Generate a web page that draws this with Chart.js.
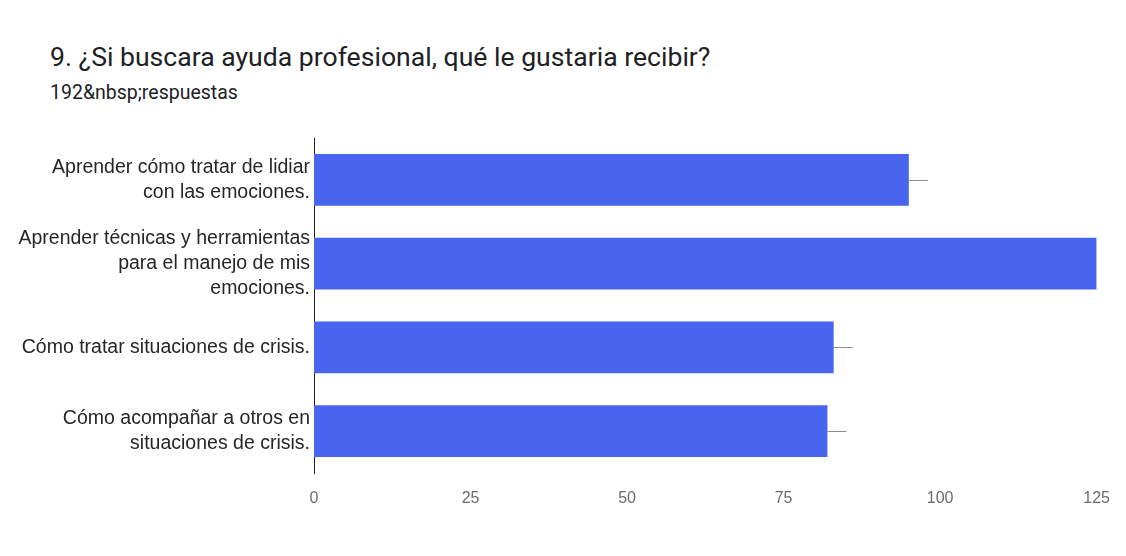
<!DOCTYPE html>
<html>
<head>
<meta charset="utf-8">
<script src="https://cdn.jsdelivr.net/npm/chart.js@4"></script>
<style>
  html, body { margin: 0; padding: 0; background: #ffffff; }
  #wrap { position: relative; width: 1126px; height: 556px; overflow: hidden; }
  #title { position: absolute; left: 50px; top: 42px; font-family: Roboto, "Open Sans", sans-serif;
           font-size: 26.6px; line-height: 30px; color: #202124; white-space: nowrap; }
  #sub { position: absolute; left: 50px; top: 81px; font-family: Roboto, "Open Sans", sans-serif;
         font-size: 19.5px; line-height: 24px; color: #202124; white-space: nowrap; }
  canvas { position: absolute; left: 0; top: 0; }
</style>
</head>
<body>
<div id="wrap">
  <div id="title">9. ¿Si buscara ayuda profesional, qué le gustaria recibir?</div>
  <div id="sub">192&amp;nbsp;respuestas</div>
  <canvas id="c" width="1126" height="556"></canvas>
</div>
<script>
// Answer options (wrapped into lines) and number of responses for each
const categories = [
  ["Aprender cómo tratar de lidiar", "con las emociones."],
  ["Aprender técnicas y herramientas", "para el manejo de mis", "emociones."],
  ["Cómo tratar situaciones de crisis."],
  ["Cómo acompañar a otros en", "situaciones de crisis."]
];
const responses = [95, 125, 83, 82];
const xTicks = [0, 25, 50, 75, 100, 125];

// Short grey stub drawn off the end of each bar, clipped to the plot area
const barStubs = {
  id: 'barStubs',
  afterDatasetsDraw(chart) {
    const { ctx, chartArea } = chart;
    const meta = chart.getDatasetMeta(0);
    ctx.save();
    ctx.beginPath();
    ctx.rect(chartArea.left, chartArea.top, chartArea.right - chartArea.left, chartArea.bottom - chartArea.top);
    ctx.clip();
    ctx.strokeStyle = '#8a8a8a';
    ctx.lineWidth = 1;
    meta.data.forEach(bar => {
      const y = Math.round(bar.y) + 0.5;
      ctx.beginPath();
      ctx.moveTo(bar.x, y);
      ctx.lineTo(bar.x + 19, y);
      ctx.stroke();
    });
    ctx.restore();
  }
};

new Chart(document.getElementById('c'), {
  type: 'bar',
  data: {
    labels: categories,
    datasets: [{
      data: responses,
      backgroundColor: '#4765ee',
      borderWidth: 0,
      barPercentage: 0.62,
      categoryPercentage: 1.0
    }]
  },
  options: {
    indexAxis: 'y',
    responsive: false,
    animation: false,
    devicePixelRatio: 1,
    layout: { padding: { top: 138, right: 26, bottom: 43, left: 0 } },
    plugins: { legend: { display: false }, tooltip: { enabled: false } },
    scales: {
      x: {
        min: 0, max: 125,
        afterBuildTicks(scale) { scale.ticks = xTicks.map(v => ({ value: v })); },
        afterFit(scale) { scale.height = 40; },
        grid: { display: false, drawTicks: false },
        border: { display: false },
        ticks: {
          padding: 16,
          color: '#6b6b6b',
          font: { family: '"Liberation Sans", Arial, sans-serif', size: 16 }
        }
      },
      y: {
        afterFit(scale) { scale.width = 314; },
        grid: { display: false, drawTicks: false },
        border: { display: true, color: '#222222', width: 1 },
        ticks: {
          padding: 4,
          color: '#262626',
          font: { family: '"Liberation Sans", Arial, sans-serif', size: 19.5, lineHeight: 1.28 }
        }
      }
    }
  },
  plugins: [barStubs]
});
</script>
</body>
</html>
